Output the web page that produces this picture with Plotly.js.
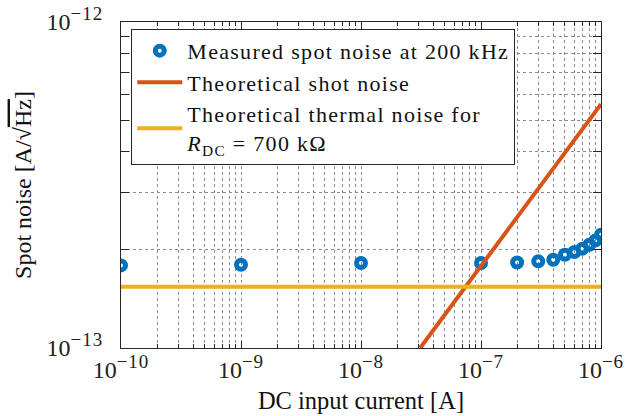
<!DOCTYPE html>
<html>
<head>
<meta charset="utf-8">
<script src="https://cdn.plot.ly/plotly-3.0.1.min.js"></script>
<style>html,body{margin:0;padding:0;background:#fff;}#chart{width:626px;height:416px;}</style>
</head>
<body>
<div id="chart"></div>
<script>
// Measured spot noise
const measuredCurrent = [1e-10, 1e-9, 1e-8, 1e-7, 2e-7, 3e-7, 4e-7, 5e-7, 6e-7, 7e-7, 8e-7, 9e-7, 1e-6];
const measuredNoise = [1.792e-13, 1.80e-13, 1.822e-13, 1.822e-13, 1.83e-13, 1.844e-13, 1.866e-13, 1.933e-13, 1.970e-13, 2.017e-13, 2.074e-13, 2.138e-13, 2.226e-13];
// Theoretical shot noise (straight line on log-log axes)
const shotCurrent = [3.11e-8, 1e-6];
const shotNoise = [1e-13, 5.6e-13];
// Theoretical thermal noise, R_DC = 700 kOhm
const thermalCurrent = [1e-10, 1e-6];
const thermalNoise = [1.54e-13, 1.54e-13];
// Tick labels
const xTickVals = [1e-10, 1e-9, 1e-8, 1e-7, 1e-6];
const xExponents = ['−10', '−9', '−8', '−7', '−6'];
const yTickVals = [1e-13, 1e-12];
const yExponents = ['−13', '−12'];

function powLabel(e) { return '10<sup><span style="font-size:19px;letter-spacing:1px">' + e + '</span></sup>'; }
const xTickText = xExponents.map(powLabel);
const yTickText = yExponents.map(function (e) { return powLabel(e) + '\u2002'; });

// minor (log) tick positions: 2..9 within each decade
function minorTicks(decades) {
  const out = [];
  decades.forEach(function (d) { for (let m = 2; m <= 9; m++) out.push(m * Math.pow(10, d)); });
  return out;
}
const xMinor = minorTicks([-10, -9, -8, -7]);
const yMinor = minorTicks([-13]);

const FONT = 'Liberation Serif, Times New Roman, serif';
const AX = '#262626';
const GRID = '#8c8c8c';
function spaced(t) { return '<span style="letter-spacing:1.3px">' + t + '</span>'; }

const traces = [
  {x: measuredCurrent, y: measuredNoise, type: 'scatter', mode: 'markers',
   name: spaced('Measured spot noise at 200 kHz'),
   marker: {symbol: 'circle-open', size: 9, color: '#0072BD', line: {width: 5, color: '#0072BD'}}},
  {x: shotCurrent, y: shotNoise, type: 'scatter', mode: 'lines',
   name: spaced('Theoretical shot noise'), line: {color: '#D95319', width: 4}},
  {x: thermalCurrent, y: thermalNoise, type: 'scatter', mode: 'lines',
   name: spaced('Theoretical thermal noise for') + '<br>' + spaced('<i>R</i><sub>DC</sub> = 700 kΩ'), line: {color: '#EDB120', width: 4}}
];

const axisCommon = {
  type: 'log', showline: true, linecolor: AX, linewidth: 1, mirror: 'allticks',
  ticks: 'inside', tickcolor: AX, ticklen: 7, tickwidth: 1,
  showgrid: true, gridcolor: GRID, griddash: 'dot', gridwidth: 1,
  zeroline: false, tickfont: {family: FONT, size: 24, color: '#222'}
};

const layout = {
  width: 626, height: 416,
  margin: {l: 121, r: 25, t: 22, b: 68},
  paper_bgcolor: '#fff', plot_bgcolor: '#fff',
  font: {family: FONT, color: '#111'},
  showlegend: true,
  legend: {x: 0.0214, y: 0.979, xanchor: 'left', yanchor: 'top',
    bgcolor: '#fff', bordercolor: AX, borderwidth: 1,
    font: {family: FONT, size: 22, color: '#111'}, itemwidth: 45, tracegroupgap: 0},
  xaxis: Object.assign({}, axisCommon, {
    range: [-10, -6], tickmode: 'array', tickvals: xTickVals, ticktext: xTickText,
    minor: {tickmode: 'array', tickvals: xMinor, ticks: 'inside', ticklen: 4, tickcolor: AX, showgrid: true, gridcolor: GRID, griddash: 'dot', gridwidth: 1},
    title: {text: 'DC input current [A]', font: {family: FONT, size: 24.5, color: '#111'}, standoff: 10}
  }),
  yaxis: Object.assign({}, axisCommon, {
    range: [-13, -12], tickmode: 'array', tickvals: yTickVals, ticktext: yTickText,
    minor: {tickmode: 'array', tickvals: yMinor, ticks: 'inside', ticklen: 8, tickcolor: AX, showgrid: true, gridcolor: GRID, griddash: 'dot', gridwidth: 1},
    title: {text: 'Spot noise [A/√<span style="text-decoration:overline">Hz</span>]', font: {family: FONT, size: 24, color: '#111'}, standoff: 8}
  })
};

Plotly.newPlot('chart', traces, layout, {displayModeBar: false, staticPlot: true});
</script>
</body>
</html>
